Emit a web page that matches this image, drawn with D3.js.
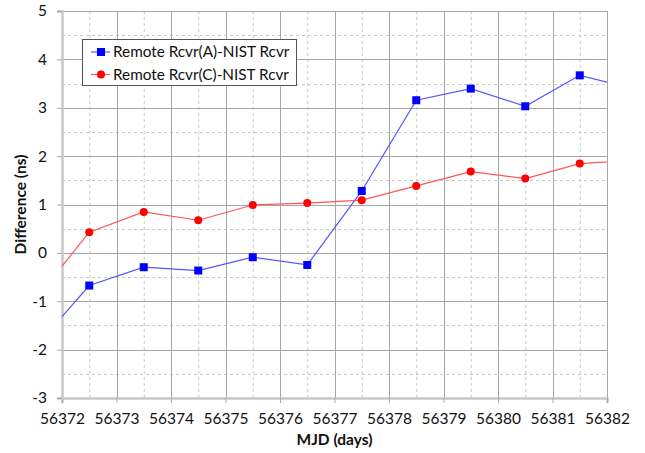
<!DOCTYPE html>
<html><head><meta charset="utf-8">
<script src="https://cdn.jsdelivr.net/npm/d3@7"></script>
<style>body{margin:0;background:#fff}svg{display:block}text{font-family:Lato,"Open Sans",sans-serif}</style>
</head><body><svg id="c" width="645" height="453"></svg>
<script>
// Data (MJD days and differences in ns); first/last points lie outside the view and are clipped
const mjd = [56371.5,56372.5,56373.5,56374.5,56375.5,56376.5,56377.5,56378.5,56379.5,56380.5,56381.5,56382.5];
const seriesA = [-1.96,-0.675,-0.296,-0.365,-0.09,-0.25,1.28,3.155,3.395,3.03,3.67,3.39];
const seriesC = [-0.98,0.427,0.847,0.675,0.99,1.03,1.09,1.385,1.68,1.535,1.845,1.915];
const seriesNames = ["Remote Rcvr(A)-NIST Rcvr","Remote Rcvr(C)-NIST Rcvr"];
const xTicks = [56372,56373,56374,56375,56376,56377,56378,56379,56380,56381,56382];
const yTicks = [-3,-2,-1,0,1,2,3,4,5];

const svg = d3.select("#c");
const L=62,R=607,T=11,B=398;
const x = d3.scaleLinear().domain([56372,56382]).range([L,R]);
const y = d3.scaleLinear().domain([-3,5]).range([B,T]);

svg.append("defs").append("clipPath").attr("id","clip").append("rect")
  .attr("x",L).attr("y",T).attr("width",R-L).attr("height",B-T);

// minor dashed grid
const minorX = d3.range(56372.5,56382,1), minorY = d3.range(-2.5,5,1);
svg.append("g").selectAll("line").data(minorX).join("line")
  .attr("x1",d=>x(d)+0.5).attr("x2",d=>x(d)+0.5).attr("y1",T).attr("y2",B)
  .attr("stroke","#c8c8c8").attr("stroke-dasharray","3,3");
svg.append("g").selectAll("line").data(minorY).join("line")
  .attr("y1",d=>Math.round(y(d))+0.5).attr("y2",d=>Math.round(y(d))+0.5).attr("x1",L).attr("x2",R)
  .attr("stroke","#c8c8c8").attr("stroke-dasharray","3,3");
// major grid
svg.append("g").selectAll("line").data(xTicks.slice(1)).join("line")
  .attr("x1",d=>Math.round(x(d))+0.5).attr("x2",d=>Math.round(x(d))+0.5).attr("y1",T).attr("y2",B)
  .attr("stroke","#a6a6a6");
svg.append("g").selectAll("line").data(yTicks.slice(1)).join("line")
  .attr("y1",d=>Math.round(y(d))+0.5).attr("y2",d=>Math.round(y(d))+0.5).attr("x1",L).attr("x2",R)
  .attr("stroke","#a6a6a6");

// axes
const xAxis = svg.append("g").attr("transform",`translate(0,${B})`)
  .call(d3.axisBottom(x).tickValues(xTicks).tickFormat(d3.format("d")).tickSize(5).tickPadding(10));
const yAxis = svg.append("g").attr("transform",`translate(${L},0)`)
  .call(d3.axisLeft(y).tickValues(yTicks).tickFormat(d=>d<0?"-"+Math.abs(d):d).tickSize(5).tickPadding(10));
[xAxis,yAxis].forEach(a=>{
  a.select(".domain").attr("stroke","#c8c8c8").attr("stroke-width",2.5);
  a.selectAll(".tick line").attr("stroke","#a6a6a6");
  a.selectAll("text").attr("font-size",15.5).attr("fill","#111").style("font-family","Lato,sans-serif");
});

// series
const sets = [
  {vals:seriesA,line:"#5555ff",fill:"#0000ff",shape:"square"},
  {vals:seriesC,line:"#ff5555",fill:"#ff0000",shape:"circle"}
];
const plot = svg.append("g").attr("clip-path","url(#clip)");
sets.forEach(s=>{
  const pts = mjd.map((m,i)=>[m,s.vals[i]]);
  plot.append("path").datum(pts)
    .attr("d",d3.line().x(d=>x(d[0])).y(d=>y(d[1])))
    .attr("fill","none").attr("stroke",s.line).attr("stroke-width",1.2);
  if(s.shape==="square"){
    plot.selectAll(null).data(pts).join("rect")
      .attr("x",d=>x(d[0])-4).attr("y",d=>y(d[1])-4).attr("width",8).attr("height",8)
      .attr("fill",s.fill);
  } else {
    plot.selectAll(null).data(pts).join("circle")
      .attr("cx",d=>x(d[0])).attr("cy",d=>y(d[1])).attr("r",4)
      .attr("fill",s.fill);
  }
});

// legend
const lg = svg.append("g");
lg.append("rect").attr("x",82.5).attr("y",39.5).attr("width",214).attr("height",46)
  .attr("fill","#fff").attr("stroke","#555");
sets.forEach((s,i)=>{
  const cy = 52 + i*22.5;
  lg.append("line").attr("x1",91).attr("x2",110).attr("y1",cy).attr("y2",cy).attr("stroke",s.line).attr("stroke-width",1.2);
  if(s.shape==="square") lg.append("rect").attr("x",97).attr("y",cy-4).attr("width",8).attr("height",8).attr("fill",s.fill);
  else lg.append("circle").attr("cx",101).attr("cy",cy).attr("r",4).attr("fill",s.fill);
  lg.append("text").attr("x",113).attr("y",cy+5).attr("font-size",15.3).attr("fill","#111").text(seriesNames[i]);
});

// axis titles
svg.append("text").attr("x",(L+R)/2).attr("y",445).attr("text-anchor","middle")
  .attr("font-size",15.5).attr("font-weight","bold").attr("fill","#111").text("MJD (days)");
svg.append("text").attr("transform",`translate(26,${(T+B)/2}) rotate(-90)`).attr("text-anchor","middle")
  .attr("font-size",15.5).attr("font-weight","bold").attr("fill","#111").text("Difference (ns)");
</script></body></html>
